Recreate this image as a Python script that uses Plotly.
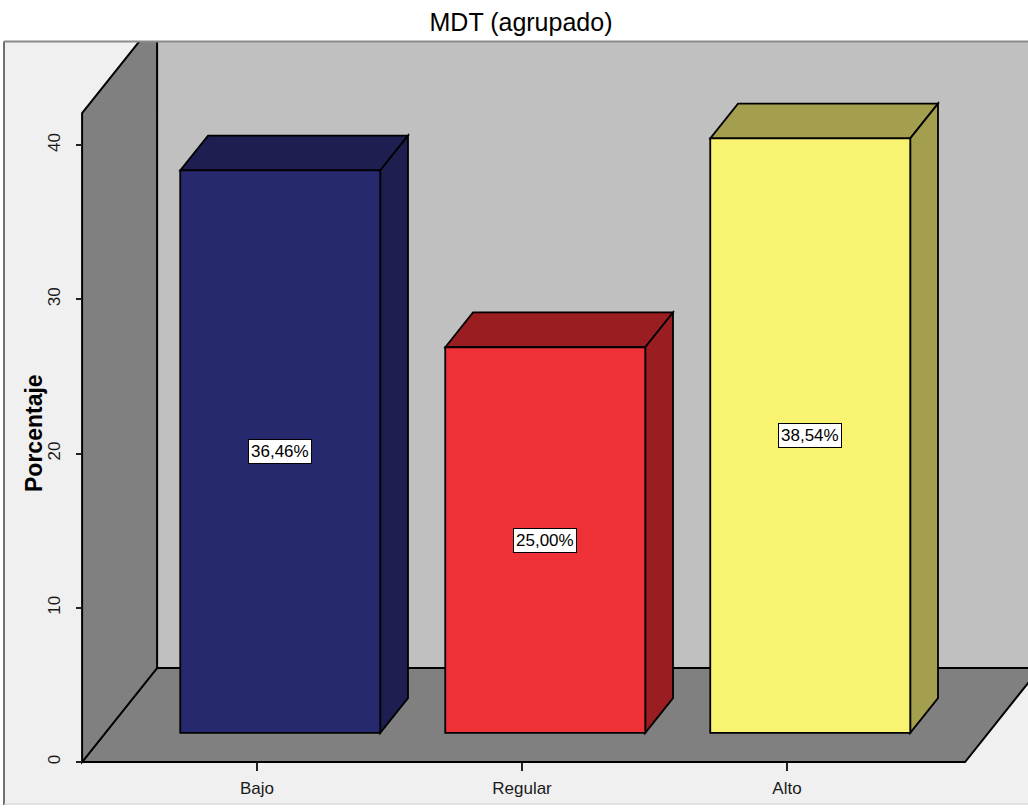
import plotly.graph_objects as go

# Category labels and percentages
categories = ["Bajo", "Regular", "Alto"]
percentages = [36.46, 25.00, 38.54]
front_colors = ["#27296f", "#ef3237", "#f8f472"]
shade_colors = ["#1e1e50", "#9a1d21", "#a49f4e"]
y_ticks = [0, 10, 20, 30, 40]

W, H = 1028, 812
FONT = "Liberation Sans, Arial"

# Pixel-to-data calibration for a full-figure plot area
PX_PER_CAT = 265.0
PX_PER_UNIT = 15.425
X0_PX, Y0_PX = 257.0, 762.0
x_range = [(0 - X0_PX) / PX_PER_CAT, (W - X0_PX) / PX_PER_CAT]
y_range = [(Y0_PX - H) / PX_PER_UNIT, Y0_PX / PX_PER_UNIT]

# 3D box geometry (data units)
XL, XR, YT = -0.66, 2.672, 42.07          # front floor edges and wall top
DX, DY = 75 / PX_PER_CAT, 94 / PX_PER_UNIT  # full depth offset
F0, F1 = 0.31, 0.68                        # bar front/back depth fractions
BAR_W = 200 / PX_PER_CAT


def px(x):
    return x / W


def py(y):
    return 1 - y / H


def path(points):
    return "M " + " L ".join(f"{x:.5f},{y:.5f}" for x, y in points) + " Z"


shapes = []


def add_paper_rect(x0, y0, x1, y1, fill, layer="below"):
    shapes.append(dict(type="rect", xref="paper", yref="paper",
                       x0=px(x0), x1=px(x1), y0=py(y1), y1=py(y0),
                       fillcolor=fill, line=dict(width=0, color=fill), layer=layer))


def add_paper_line(x0, y0, x1, y1, color, width):
    shapes.append(dict(type="line", xref="paper", yref="paper", x0=px(x0), x1=px(x1),
                       y0=py(y0), y1=py(y1), line=dict(color=color, width=width), layer="above"))


def add_poly(points, fill, lw=2, lc="#000000"):
    shapes.append(dict(type="path", xref="x", yref="y", path=path(points),
                       fillcolor=fill, line=dict(color=lc, width=lw), layer="below"))


def add_line(p0, p1, lw=2, color="#000000"):
    shapes.append(dict(type="line", xref="x", yref="y", x0=p0[0], y0=p0[1],
                       x1=p1[0], y1=p1[1], line=dict(color=color, width=lw), layer="below"))


# chart frame background
add_paper_rect(4, 42, W + 5, 805, "#f0f0f0")

# back wall
add_poly([(XL + DX, DY), (x_range[1] + 1, DY), (x_range[1] + 1, YT + DY + 5), (XL + DX, YT + DY + 5)],
         "#c0c0c0", lw=0, lc="#c0c0c0")
# floor
add_poly([(XL, 0), (XR, 0), (XR + DX, DY), (XL + DX, DY)], "#808080")
# left wall
add_poly([(XL, 0), (XL, YT), (XL + DX, YT + DY), (XL + DX, DY)], "#808080")
add_line((XL + DX, DY), (x_range[1] + 1, DY))

# bars
annotations = []
for i, (cat, val, fc, sc) in enumerate(zip(categories, percentages, front_colors, shade_colors)):
    xa = i - BAR_W / 2 + F0 * DX
    xb = i + BAR_W / 2 + F0 * DX
    yb = F0 * DY
    yt = yb + val
    ox, oy = (F1 - F0) * DX, (F1 - F0) * DY
    add_poly([(xa, yt), (xb, yt), (xb + ox, yt + oy), (xa + ox, yt + oy)], sc, lw=1.8)
    add_poly([(xb, yb), (xb + ox, yb + oy), (xb + ox, yt + oy), (xb, yt)], sc, lw=1.8)
    add_poly([(xa, yb), (xb, yb), (xb, yt), (xa, yt)], fc, lw=1.8)
    annotations.append(dict(x=i + F0 * DX, y=yb + val / 2, xref="x", yref="y",
                            text=f"{val:.2f}%".replace(".", ","), showarrow=False,
                            bgcolor="#ffffff", bordercolor="#000000", borderwidth=1,
                            borderpad=2, font=dict(family=FONT, size=17, color="#000000")))

# mask everything outside the frame, then draw the frame borders
add_paper_rect(-5, -5, W + 5, 41, "#ffffff", layer="above")
add_paper_rect(-5, -5, 3, H + 5, "#ffffff", layer="above")
add_paper_rect(4, 805, W + 5, H + 5, "#ffffff", layer="above")
add_paper_line(4, 41.5, W + 5, 41.5, "#8a8a8a", 2)
add_paper_line(4, 41.5, 4, 805, "#707070", 2)
add_paper_line(4, 804, W + 5, 804, "#d4d4d4", 1)

# y axis title
annotations.append(dict(x=px(19), y=py(433), xref="paper", yref="paper", text="<b>Porcentaje</b>",
                        textangle=-90, showarrow=False,
                        font=dict(family=FONT, size=23, color="#000000")))

fig = go.Figure()
fig.add_trace(go.Scatter(x=list(range(len(categories))), y=percentages, mode="markers",
                         marker=dict(opacity=0), hoverinfo="skip", showlegend=False))

fig.update_layout(
    width=W, height=H,
    margin=dict(l=0, r=0, t=0, b=0),
    paper_bgcolor="#ffffff", plot_bgcolor="rgba(0,0,0,0)",
    shapes=shapes, annotations=annotations, showlegend=False,
    title=dict(text="MDT (agrupado)", x=px(521), xanchor="center", y=py(22), yanchor="middle",
               font=dict(family=FONT, size=25, color="#000000")),
    xaxis=dict(domain=[0, 1], range=x_range, autorange=False, anchor="free", position=py(762),
               tickvals=list(range(len(categories))), ticktext=categories,
               ticks="outside", ticklen=8, tickwidth=1.5, tickcolor="#222222",
               ticklabelstandoff=3,
               showgrid=False, zeroline=False, showline=False,
               tickfont=dict(family=FONT, size=17, color="#1a1a1a")),
    yaxis=dict(domain=[0, 1], range=y_range, autorange=False, anchor="free", position=px(82),
               tickvals=y_ticks, ticktext=[str(t) for t in y_ticks], tickangle=-90,
               ticks="outside", ticklen=6, tickwidth=1.5, tickcolor="#222222",
               ticklabelstandoff=9,
               showgrid=False, zeroline=False, showline=False,
               tickfont=dict(family=FONT, size=17, color="#1a1a1a")),
)

fig.write_html("out.html")
